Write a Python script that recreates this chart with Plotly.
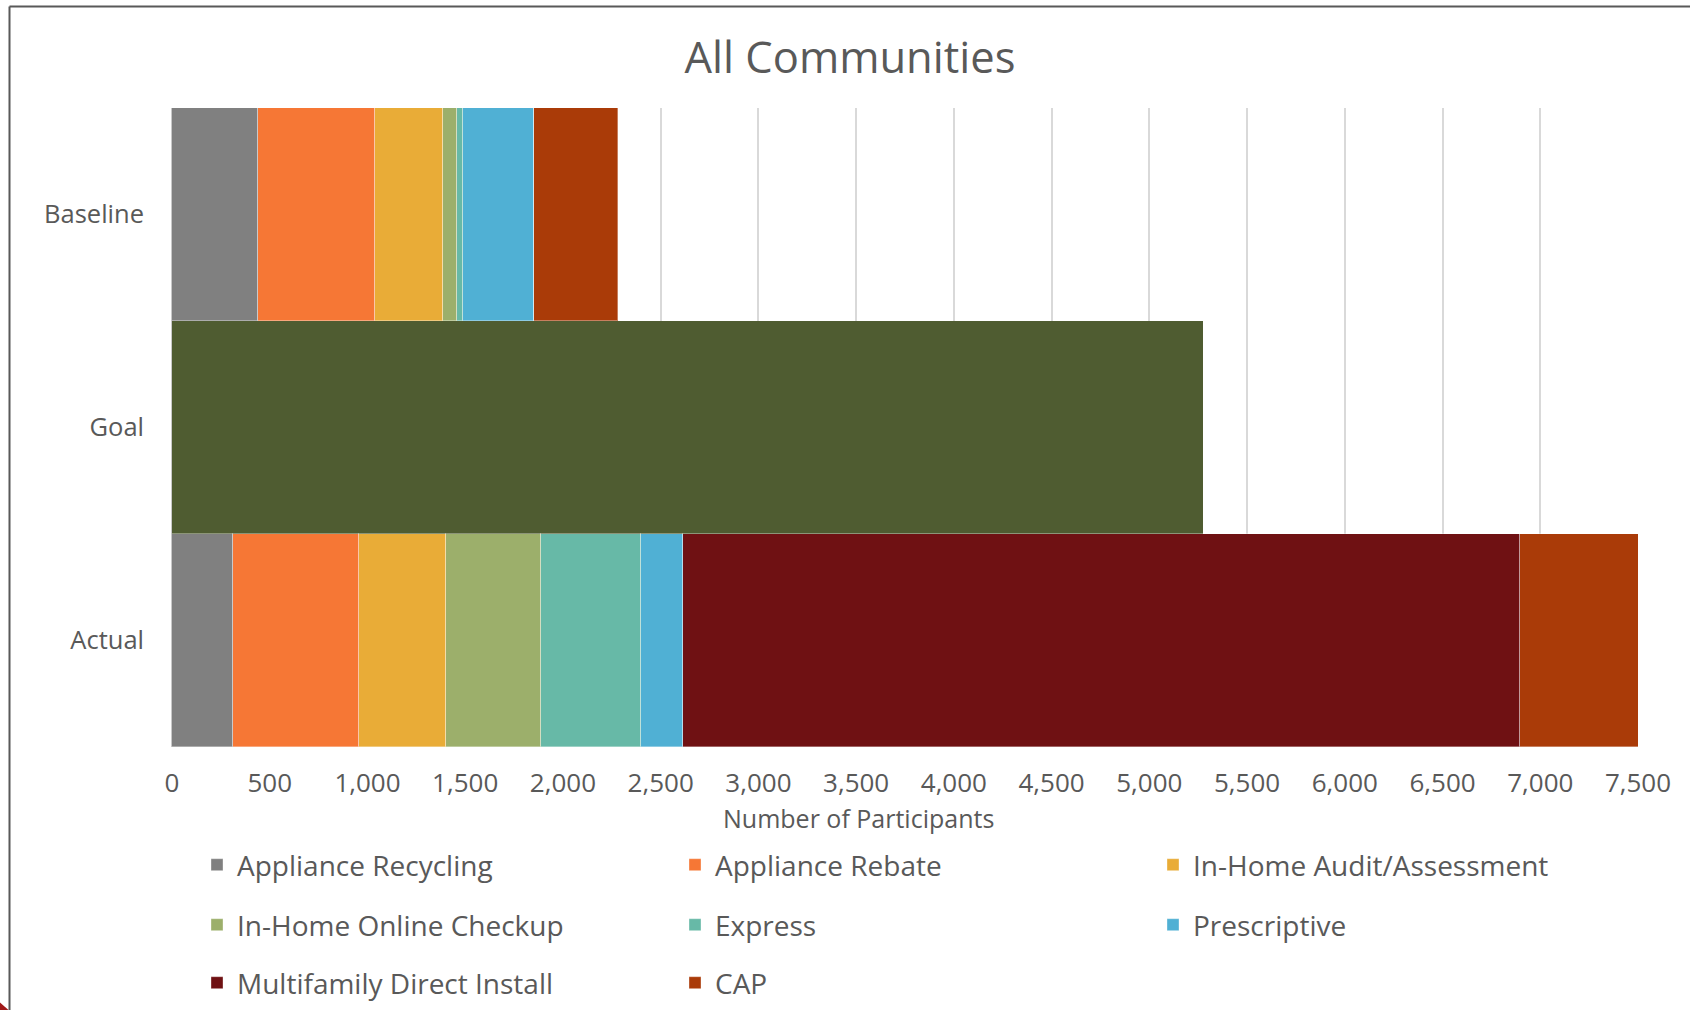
import plotly.graph_objects as go

# ---- data ----
categories = ["Baseline", "Goal", "Actual"]
series_names = [
    "Appliance Recycling", "Appliance Rebate", "In-Home Audit/Assessment",
    "In-Home Online Checkup", "Express", "Prescriptive",
    "Multifamily Direct Install", "CAP",
]
baseline_values = [438, 602, 348, 70, 30, 362, 0, 431]
actual_values = [312, 645, 447, 486, 511, 214, 4280, 610]
goal_value = 5275
x_tick_values = [0, 500, 1000, 1500, 2000, 2500, 3000, 3500, 4000, 4500, 5000, 5500, 6000, 6500, 7000, 7500]
x_axis_title = "Number of Participants"

# ---- styles ----
colors = ["#808080", "#F67735", "#E9AC37", "#9CAF6B", "#67B9A7", "#50B0D4", "#6F1113", "#AA3B08"]
goal_color = "#4F5C31"
legend_rows = ["legend", "legend", "legend", "legend2", "legend2", "legend2", "legend3", "legend3"]
text_color = "#595959"
font_family = "Open Sans"

W, H = 1690, 1010
L, R, T, B = 172, 1638, 108, 747  # plot area in pixels


def px(X):
    return (X - L) / (R - L)


def py(Y):
    return (B - Y) / (B - T)


fig = go.Figure()

fig.add_trace(go.Bar(
    y=["Goal"], x=[goal_value], orientation="h", name="Goal",
    marker=dict(color=goal_color, line=dict(width=0)), showlegend=False,
))

for name, b, a, c, lg in zip(series_names, baseline_values, actual_values, colors, legend_rows):
    fig.add_trace(go.Bar(
        y=["Baseline", "Actual"], x=[b, a], orientation="h", name=name,
        marker=dict(color=c, line=dict(color="rgba(255,255,255,0.35)", width=1)),
        legend=lg,
    ))

legend_common = dict(
    orientation="h", entrywidth=433, entrywidthmode="pixels",
    x=px(197), xanchor="left", yanchor="middle",
    font=dict(family=font_family, size=28, color=text_color),
    bgcolor="rgba(0,0,0,0)", traceorder="normal",
)

shapes = [
    dict(type="line", xref="paper", yref="paper", x0=px(9.5), x1=px(1700), y0=py(6.5), y1=py(6.5),
         line=dict(color="#595959", width=2)),
    dict(type="line", xref="paper", yref="paper", x0=px(9.5), x1=px(9.5), y0=py(6.5), y1=py(1015),
         line=dict(color="#595959", width=2)),
    dict(type="path", xref="paper", yref="paper",
         path=f"M {px(0)} {py(1002.5)} L {px(8.5)} {py(1010)} L {px(0)} {py(1010)} Z",
         fillcolor="#A01A1A", line=dict(width=0)),
]

fig.update_layout(
    width=W, height=H,
    margin=dict(l=L, r=W - R, t=T, b=H - B, autoexpand=False),
    barmode="stack", bargap=0,
    paper_bgcolor="white", plot_bgcolor="white",
    font=dict(family=font_family, color=text_color),
    title=dict(text="All Communities", x=850 / W, xanchor="center", xref="container",
               y=1 - 58 / H, yanchor="middle", yref="container",
               font=dict(family=font_family, size=43.5, color=text_color)),
    xaxis=dict(range=[0, 7500], tickvals=x_tick_values, tickformat=",",
               showgrid=True, gridcolor="#D9D9D9", gridwidth=1.5,
               zeroline=True, zerolinecolor="#C8C8C8", zerolinewidth=1.5,
               showline=False, ticks="", ticklabelstandoff=18,
               tickfont=dict(family=font_family, size=26, color=text_color)),
    yaxis=dict(categoryorder="array", categoryarray=["Actual", "Goal", "Baseline"],
               showgrid=False, zeroline=False, showline=False, ticks="",
               ticklabelstandoff=27,
               tickfont=dict(family=font_family, size=25.5, color=text_color)),
    legend=dict(legend_common, y=py(865)),
    legend2=dict(legend_common, y=py(925)),
    legend3=dict(legend_common, y=py(983)),
    shapes=shapes,
    annotations=[dict(text=x_axis_title, xref="paper", yref="paper",
                      x=px(858), y=py(818), xanchor="center", yanchor="middle",
                      showarrow=False, font=dict(family=font_family, size=25, color=text_color))],
)

fig.write_html("out.html", config={"displayModeBar": False},
               post_script="document.body.style.margin='0';document.body.style.overflow='hidden';")
